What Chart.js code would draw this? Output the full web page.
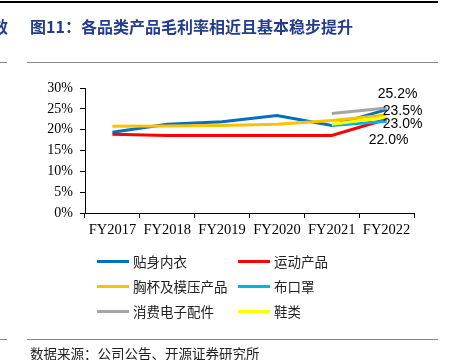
<!DOCTYPE html>
<html>
<head>
<meta charset="utf-8">
<script src="https://cdn.jsdelivr.net/npm/chart.js@4"></script>
<style>
  body { margin: 0; background: #fff; }
  #page { position: relative; width: 450px; height: 360px; overflow: hidden; font-family: "Noto Sans CJK SC", sans-serif; }
  #page canvas { position: absolute; left: 0; top: 0; }
  .rule { position: absolute; height: 0; }
  .title { position: absolute; top: 14px; font-size: 16px; font-weight: bold; color: #253C8C; white-space: nowrap; font-family: "Noto Sans CJK SC", serif; }
  .source { position: absolute; left: 30px; top: 343px; font-size: 13.5px; color: #222; white-space: nowrap; }
  .legend-item { position: absolute; height: 20px; font-size: 13.5px; color: #222; white-space: nowrap; }
  .legend-item span.swatch { position: absolute; left: 0; top: 9px; width: 32px; height: 3px; }
  .legend-item span.txt { position: absolute; left: 36px; top: 0; line-height: 20px; }
</style>
</head>
<body>
<div id="page">
  <canvas id="myLineChart" width="450" height="360"></canvas>
  <div class="rule" style="left:0;top:1px;width:438px;border-top:2px solid #000"></div>
  <div class="title" style="left:-8px">效</div>
  <div class="title" style="left:30px">图11：各品类产品毛利率相近且基本稳步提升</div>
  <div class="rule" style="left:0;top:62px;width:7px;border-top:1px solid #888"></div>
  <div class="rule" style="left:27px;top:62px;width:411px;border-top:1px solid #888"></div>
  <div id="legend"></div>
  <div class="rule" style="left:0;top:339px;width:7px;border-top:1px solid #888"></div>
  <div class="rule" style="left:27px;top:339px;width:411px;border-top:1px solid #888"></div>
  <div class="source">数据来源：公司公告、开源证券研究所</div>
</div>
<script>
// categories
const years = ['FY2017', 'FY2018', 'FY2019', 'FY2020', 'FY2021', 'FY2022'];
const yTicks = [0, 5, 10, 15, 20, 25, 30];

// gross margin by product line (%)
const innerwear   = [19.4, 21.3, 21.9, 23.4, 21.0, 24.8];
const sports      = [18.9, 18.6, 18.6, 18.6, 18.6, 22.5];
const cupsMolded  = [20.8, 20.9, 21.0, 21.3, 22.2, 23.5];
const masks       = [null, null, null, null, 21.0, 22.0];
const electronics = [null, null, null, null, 23.9, 25.2];
const shoes       = [null, null, null, null, 21.3, 23.0];

const seriesNames  = ['贴身内衣', '运动产品', '胸杯及模压产品', '布口罩', '消费电子配件', '鞋类'];
const seriesData   = [innerwear, sports, cupsMolded, masks, electronics, shoes];
const seriesColors = ['#0070C0', '#FF0000', '#FFC000', '#00B0F0', '#A5A5A5', '#FFFF00'];

// end-of-line labels: [series index, dx, dy]
const endLabels = [[4, 11, -14], [2, 16, -4], [5, 16, 7], [3, 2, 19]];

const datasets = seriesData.map((d, i) => ({
    label: seriesNames[i],
    data: d,
    borderColor: seriesColors[i],
    backgroundColor: seriesColors[i],
    borderWidth: 3,
    pointRadius: 0,
    tension: 0,
    spanGaps: false,
    order: seriesData.length - i
}));

// html legend built from the same arrays
const legend = document.getElementById('legend');
seriesNames.forEach((name, i) => {
    const col = i % 2, row = Math.floor(i / 2);
    const el = document.createElement('div');
    el.className = 'legend-item';
    el.style.left = (col ? 238 : 97) + 'px';
    el.style.top = (251 + row * 25) + 'px';
    el.innerHTML = '<span class="swatch" style="background:' + seriesColors[i] + '"></span><span class="txt">' + name + '</span>';
    legend.appendChild(el);
});

const endLabelPlugin = {
    id: 'endLabels',
    afterDatasetsDraw(chart) {
        const ctx = chart.ctx;
        ctx.save();
        ctx.font = '14px "Liberation Sans", Arial, sans-serif';
        ctx.fillStyle = '#000';
        ctx.textAlign = 'center';
        ctx.textBaseline = 'middle';
        endLabels.forEach(([si, dx, dy]) => {
            const meta = chart.getDatasetMeta(si);
            const last = seriesData[si].length - 1;
            const pt = meta.data[last];
            ctx.fillText(seriesData[si][last].toFixed(1) + '%', pt.x + dx, pt.y + dy);
        });
        ctx.restore();
    }
};

const ctx = document.getElementById('myLineChart').getContext('2d');
new Chart(ctx, {
    type: 'line',
    data: { labels: years, datasets: datasets },
    options: {
        responsive: false,
        animation: false,
        layout: { padding: { left: 0, top: 88, right: 36, bottom: 117 } },
        plugins: { legend: { display: false }, tooltip: { enabled: false } },
        scales: {
            x: {
                offset: true,
                grid: { display: true, offset: true, drawOnChartArea: false, drawTicks: true, tickLength: 5, color: '#000' },
                border: { color: '#000', width: 1 },
                ticks: { color: '#000', font: { family: '"Liberation Serif", "Times New Roman", serif', size: 14.5 }, padding: 3, maxRotation: 0 },
                afterFit(scale) { scale.height = 30; }
            },
            y: {
                min: 0, max: 30,
                afterBuildTicks(scale) { scale.ticks = yTicks.map(v => ({ value: v })); },
                grid: { display: true, drawOnChartArea: false, drawTicks: true, tickLength: 5, color: '#000' },
                border: { color: '#000', width: 1 },
                ticks: { color: '#000', font: { family: '"Liberation Serif", "Times New Roman", serif', size: 14 }, padding: 7, callback: v => v + '%' },
                afterFit(scale) { scale.width = 85; }
            }
        }
    },
    plugins: [endLabelPlugin]
});
</script>
</body>
</html>
